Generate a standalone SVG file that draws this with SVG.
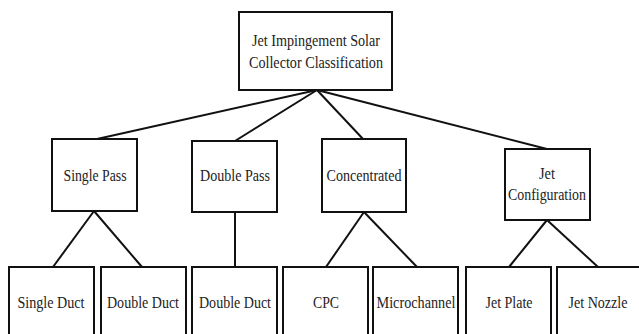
<svg xmlns="http://www.w3.org/2000/svg" width="639" height="334" viewBox="0 0 639 334">
<style>
.box{fill:#fff;stroke:#111;stroke-width:2}
text{font-family:'Liberation Serif','DejaVu Serif',serif;font-size:16px;fill:#222;text-anchor:middle}
.c{stroke:#111;stroke-width:2;fill:none}
</style>
<rect width="639" height="334" fill="#fff"/>
<g id="connectors">
<line class="c" x1="317" y1="90" x2="97" y2="139"/>
<line class="c" x1="317" y1="90" x2="235" y2="141"/>
<line class="c" x1="317" y1="90" x2="363" y2="139"/>
<line class="c" x1="317" y1="90" x2="547" y2="149"/>
<line class="c" x1="94" y1="211" x2="53" y2="267"/>
<line class="c" x1="94" y1="211" x2="142" y2="267"/>
<line class="c" x1="235" y1="212" x2="235" y2="267"/>
<line class="c" x1="364" y1="212" x2="326" y2="267"/>
<line class="c" x1="364" y1="212" x2="417" y2="267"/>
<line class="c" x1="547" y1="220" x2="509" y2="267"/>
<line class="c" x1="547" y1="220" x2="598" y2="267"/>
</g>
<g id="root">
<rect class="box" x="239" y="12" width="153" height="78"/>
<text x="316" y="46" textLength="128" lengthAdjust="spacingAndGlyphs">Jet Impingement Solar</text>
<text x="316" y="68" textLength="134" lengthAdjust="spacingAndGlyphs">Collector Classification</text>
</g>
<g id="single-pass">
<rect class="box" x="52" y="139" width="85" height="72"/>
<text x="95" y="181" textLength="63" lengthAdjust="spacingAndGlyphs">Single Pass</text>
</g>
<g id="double-pass">
<rect class="box" x="192" y="141" width="85" height="71"/>
<text x="235" y="181" textLength="70" lengthAdjust="spacingAndGlyphs">Double Pass</text>
</g>
<g id="concentrated">
<rect class="box" x="322" y="139" width="84" height="73"/>
<text x="364" y="181" textLength="75" lengthAdjust="spacingAndGlyphs">Concentrated</text>
</g>
<g id="jet-configuration">
<rect class="box" x="505" y="149" width="85" height="71"/>
<text x="547" y="179" textLength="16" lengthAdjust="spacingAndGlyphs">Jet</text>
<text x="547" y="200" textLength="78" lengthAdjust="spacingAndGlyphs">Configuration</text>
</g>
<g id="single-duct">
<rect class="box" x="9" y="267" width="85" height="80"/>
<text x="51" y="308" textLength="67" lengthAdjust="spacingAndGlyphs">Single Duct</text>
</g>
<g id="double-duct-1">
<rect class="box" x="101" y="267" width="85" height="80"/>
<text x="143" y="308" textLength="72" lengthAdjust="spacingAndGlyphs">Double Duct</text>
</g>
<g id="double-duct-2">
<rect class="box" x="192" y="267" width="85" height="80"/>
<text x="235" y="308" textLength="72" lengthAdjust="spacingAndGlyphs">Double Duct</text>
</g>
<g id="cpc">
<rect class="box" x="283" y="267" width="85" height="80"/>
<text x="326" y="308" textLength="26" lengthAdjust="spacingAndGlyphs">CPC</text>
</g>
<g id="microchannel">
<rect class="box" x="373" y="267" width="85" height="80"/>
<text x="416" y="308" textLength="79" lengthAdjust="spacingAndGlyphs">Microchannel</text>
</g>
<g id="jet-plate">
<rect class="box" x="466" y="267" width="85" height="80"/>
<text x="509" y="308" textLength="47" lengthAdjust="spacingAndGlyphs">Jet Plate</text>
</g>
<g id="jet-nozzle">
<rect class="box" x="557" y="267" width="85" height="80"/>
<text x="598" y="308" textLength="59" lengthAdjust="spacingAndGlyphs">Jet Nozzle</text>
</g>
</svg>
